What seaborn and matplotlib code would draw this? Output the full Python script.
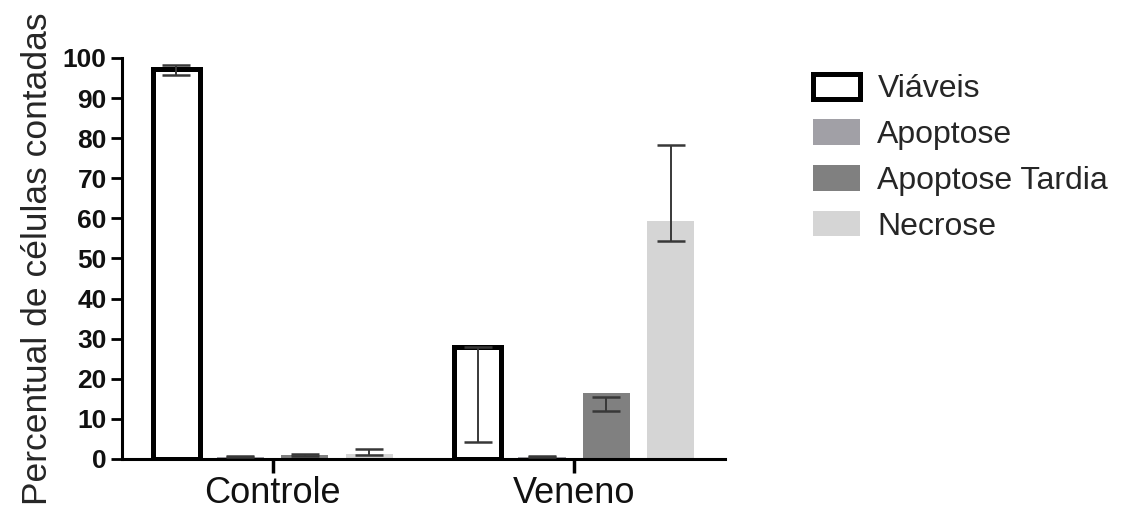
import pandas as pd
import seaborn as sns
import matplotlib.pyplot as plt
from matplotlib.patches import Patch

# ---------------------------------------------------------
# Data
# ---------------------------------------------------------
grupos = ['Controle', 'Veneno']
tipos = ['Viáveis', 'Apoptose', 'Apoptose Tardia', 'Necrose']

# bar heights, per type: [Controle, Veneno]
viaveis = [97.3, 27.9]
apoptose = [0.6, 0.6]
apoptose_tardia = [1.1, 16.4]
necrose = [1.3, 59.4]

# error bar ends (low, high), per type: [Controle, Veneno]
viaveis_lo, viaveis_hi = [95.8, 4.2], [98.2, 27.9]
apoptose_lo, apoptose_hi = [0.4, 0.4], [0.8, 0.8]
tardia_lo, tardia_hi = [0.8, 12.0], [1.3, 15.5]
necrose_lo, necrose_hi = [1.0, 54.4], [2.4, 78.3]

CORES = {'Viáveis': '#ffffff', 'Apoptose': '#a1a0a6',
         'Apoptose Tardia': '#808080', 'Necrose': '#d5d5d5'}

valores = [viaveis, apoptose, apoptose_tardia, necrose]
lows = [viaveis_lo, apoptose_lo, tardia_lo, necrose_lo]
highs = [viaveis_hi, apoptose_hi, tardia_hi, necrose_hi]

df = pd.DataFrame({
    'Grupo': [g for _ in tipos for g in grupos],
    'Tipo': [t for t in tipos for _ in grupos],
    'Valor': [v for vals in valores for v in vals],
})

# ---------------------------------------------------------
# Style
# ---------------------------------------------------------
sns.set_theme(style="ticks")
plt.rcParams['font.family'] = ['Liberation Sans', 'DejaVu Sans']

fig = plt.figure(figsize=(11.23, 5.11), dpi=100)
ax = fig.add_axes([0.1086, 0.1018, 0.5370, 0.7847])

sns.barplot(data=df, x='Grupo', y='Valor', hue='Tipo', order=grupos,
            hue_order=tipos, palette=CORES, errorbar=None,
            width=0.855, gap=0.27,
            saturation=1, linewidth=0, ax=ax, legend=False)

# thick black outline for the "Viáveis" bars
for bar in ax.containers[0]:
    bar.set_edgecolor('black')
    bar.set_linewidth(3.6)
    bar.set_joinstyle('miter')

# error bars (drawn between the low/high ends)
for cont, lo, hi in zip(ax.containers, lows, highs):
    xs = [b.get_x() + b.get_width() / 2 for b in cont]
    mid = [(a + b) / 2 for a, b in zip(lo, hi)]
    half = [(b - a) / 2 for a, b in zip(lo, hi)]
    ax.errorbar(xs, mid, yerr=half, fmt='none', ecolor='#383838',
                elinewidth=1.4, capsize=10, capthick=1.8, zorder=5)

ax.set_xlim(-0.5, 1.5)
ax.set_ylim(0, 100)
ax.set_yticks(range(0, 101, 10))
ax.set_xlabel('')
ax.set_ylabel('Percentual de células contadas', fontsize=25.5, labelpad=6)

for lab in ax.get_yticklabels():
    lab.set_fontweight('bold')
ax.tick_params(axis='y', labelsize=19, width=2, length=8, color='black',
               labelcolor='#111111', pad=3)
ax.tick_params(axis='x', labelsize=26, width=2.5, length=10, color='black',
               labelcolor='#111111', pad=2)

sns.despine(ax=ax)
for side in ['left', 'bottom']:
    ax.spines[side].set_linewidth(2.2)
    ax.spines[side].set_color('black')

# legend on the right
handles = []
for t in tipos:
    if t == 'Viáveis':
        handles.append(Patch(facecolor='white', edgecolor='black', linewidth=3.6, label=t))
    else:
        handles.append(Patch(facecolor=CORES[t], edgecolor='none', label=t))
fig.legend(handles=handles, loc='upper left', bbox_to_anchor=(0.713, 0.881),
           frameon=False, fontsize=23, handlelength=1.45, handleheight=0.85,
           handletextpad=0.55, labelspacing=0.47, borderaxespad=0)

plt.savefig('out.png', dpi=100)
